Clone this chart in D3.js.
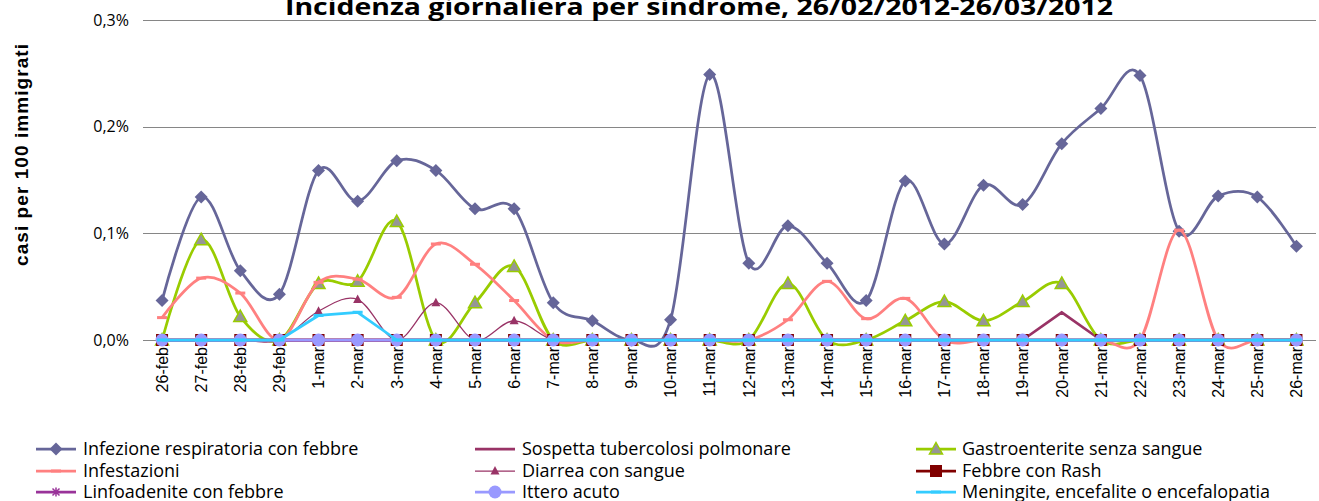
<!DOCTYPE html>
<html><head><meta charset="utf-8">
<script src="https://cdn.jsdelivr.net/npm/d3@7"></script>
<style>body{margin:0;background:#fff;} svg{display:block}</style>
</head><body><svg id="c" width="1319" height="501"></svg>
<script>
// ---------- data ----------
const categories = ["26-feb","27-feb","28-feb","29-feb","1-mar","2-mar","3-mar","4-mar","5-mar","6-mar","7-mar","8-mar","9-mar","10-mar","11-mar","12-mar","13-mar","14-mar","15-mar","16-mar","17-mar","18-mar","19-mar","20-mar","21-mar","22-mar","23-mar","24-mar","25-mar","26-mar"];
const infezioneRespiratoria = [0.037,0.134,0.065,0.043,0.159,0.130,0.168,0.159,0.123,0.123,0.035,0.018,0,0.019,0.249,0.072,0.107,0.072,0.037,0.149,0.090,0.145,0.127,0.184,0.217,0.248,0.102,0.135,0.134,0.088];
const tubercolosi = [0,0,0,0,0,0,0,0,0,0,0,0,0,0,0,0,0,0,0,0,0,0,0,0.026,0,0,0,0,0,0];
const gastroenterite = [0,0.094,0.022,0,0.053,0.055,0.111,0,0.035,0.069,0,0,0,0,0,0,0.053,0,0,0.018,0.036,0.018,0.036,0.053,0,0,0,0,0,0];
const infestazioni = [0.021,0.058,0.044,0,0.054,0.057,0.040,0.090,0.071,0.037,0,0,0,0,0,0,0.019,0.055,0.020,0.039,0,0,0,0,0,0,0.103,0,0,0];
const diarrea = [0,0,0,0,0.027,0.038,0,0.035,0,0.018,0,0,0,0,0,0,0,0,0,0,0,0,0,0,0,0,0,0,0,0];
const febbreRash = [0,0,0,0,0,0,0,0,0,0,0,0,0,0,0,0,0,0,0,0,0,0,0,0,0,0,0,0,0,0];
const linfoadenite = [0,0,0,0,0,0,0,0,0,0,0,0,0,0,0,0,0,0,0,0,0,0,0,0,0,0,0,0,0,0];
const ittero = [0,0,0,0,0,0,0,0,0,0,0,0,0,0,0,0,0,0,0,0,0,0,0,0,0,0,0,0,0,0];
const meningite = [0,0,0,0,0.023,0.026,0,0,0,0,0,0,0,0,0,0,0,0,0,0,0,0,0,0,0,0,0,0,0,0];
const seriesNames = ["Infezione respiratoria con febbre","Sospetta tubercolosi polmonare","Gastroenterite senza sangue","Infestazioni","Diarrea con sangue","Febbre con Rash","Linfoadenite con febbre","Ittero acuto","Meningite, encefalite o encefalopatia"];
const yTicks = [0,0.1,0.2,0.3];
const yTickLabels = ["0,0%","0,1%","0,2%","0,3%"];
const title = "Incidenza giornaliera per sindrome, 26/02/2012-26/03/2012";
const yTitle = "casi per 100 immigrati";

// ---------- styles ----------
const styles = [
  {color:"#666699", width:2.75, smooth:true, marker:"diamond", fill:"#666699"},
  {color:"#993366", width:2.75, smooth:false, marker:null},
  {color:"#99CC00", width:2.75, smooth:true, marker:"triangle", fill:"#969696"},
  {color:"#FF8080", width:2.75, smooth:true, marker:"dash", fill:"#FF8080"},
  {color:"#993366", width:1.25, smooth:true, marker:"smalltri", fill:"#993366"},
  {color:"#800000", width:2.75, smooth:false, marker:"square", fill:"#800000"},
  {color:"#993399", width:2.75, smooth:false, marker:"star", fill:"#993399"},
  {color:"#9999FF", width:2.75, smooth:false, marker:"circle", fill:"#9999FF"},
  {color:"#33CCFF", width:2.75, smooth:false, marker:"dash", fill:"#33CCFF"}
];
const values = [infezioneRespiratoria,tubercolosi,gastroenterite,infestazioni,diarrea,febbreRash,linfoadenite,ittero,meningite];
const series = seriesNames.map((n,i)=>({name:n, values:values[i], style:styles[i]}));

const svg = d3.select("#c");
const x = d3.scaleBand().domain(categories).range([142.5,1316]).padding(0);
const xc = c => x(c) + x.bandwidth()/2;
const y = d3.scaleLinear().domain([0,0.3]).range([340,20]);

// gridlines
svg.append("g").selectAll("line").data(yTicks).join("line")
  .attr("x1",143).attr("x2",1316)
  .attr("y1",d=>Math.round(y(d))+0.5).attr("y2",d=>Math.round(y(d))+0.5)
  .attr("stroke","#868686").attr("stroke-width",1);

// y tick labels
svg.append("g").selectAll("text").data(yTicks).join("text")
  .attr("x",129).attr("y",d=>y(d)).attr("dy","0.35em")
  .attr("text-anchor","end")
  .style("font-family","'Open Sans'").style("font-size","16px").attr("fill","#000")
  .text((d,i)=>yTickLabels[i]);

// x labels
svg.append("g").selectAll("text").data(categories).join("text")
  .attr("transform",d=>`translate(${xc(d)},347) rotate(-90)`)
  .attr("dy","0.36em").attr("text-anchor","end")
  .style("font-family","'Liberation Sans', Arial").style("font-size","16px").attr("fill","#000")
  .text(d=>d);

// title
svg.append("text").attr("x",285).attr("y",15)
  .attr("textLength",828).attr("lengthAdjust","spacingAndGlyphs")
  .style("font-family","'Open Sans'").style("font-weight","bold").style("font-size","23px")
  .text(title);

// y title
svg.append("text").attr("transform","translate(21,155) rotate(-90)")
  .attr("text-anchor","middle").attr("dy","0.35em")
  .attr("textLength",222).attr("lengthAdjust","spacing")
  .style("font-family","'Liberation Sans', Arial").style("font-weight","bold").style("font-size","19px")
  .text(yTitle);

function drawMarker(g, type, fill, stroke){
  if(type==="diamond") g.append("path").attr("d","M0,-6.5L6.5,0L0,6.5L-6.5,0Z").attr("fill",fill);
  else if(type==="triangle") g.append("path").attr("d","M0,-6.5L6.5,5L-6.5,5Z").attr("fill",fill).attr("stroke",stroke).attr("stroke-width",1.5);
  else if(type==="dash") g.append("rect").attr("x",-5).attr("y",-1.5).attr("width",10).attr("height",3).attr("fill",fill);
  else if(type==="smalltri") g.append("path").attr("d","M0,-5L4.5,3.5L-4.5,3.5Z").attr("fill",fill);
  else if(type==="square") g.append("rect").attr("x",-6).attr("y",-6).attr("width",12).attr("height",12).attr("fill",fill);
  else if(type==="circle") g.append("circle").attr("r",6.5).attr("fill",fill);
  else if(type==="star") g.append("path").attr("d","M-3.5,-3.5L3.5,3.5M-3.5,3.5L3.5,-3.5M0,-4.5L0,4.5").attr("stroke",fill).attr("stroke-width",1.5).attr("fill","none");
}

// series
series.forEach(s=>{
  const g = svg.append("g");
  const line = d3.line().x((d,i)=>xc(categories[i])).y(d=>y(d))
    .curve(s.style.smooth ? d3.curveCatmullRom.alpha(0) : d3.curveLinear);
  g.append("path").attr("d",line(s.values)).attr("fill","none")
    .attr("stroke",s.style.color).attr("stroke-width",s.style.width).attr("stroke-linejoin","round");
  if(s.style.marker){
    s.values.forEach((v,i)=>{
      const mg = g.append("g").attr("transform",`translate(${xc(categories[i])},${y(v)})`);
      drawMarker(mg, s.style.marker, s.style.fill, s.style.color);
    });
  }
});

// legend
const legRows = [449,471,492];
const legLineX = [36,475,916];
const legTextX = [83,522,962];
series.forEach((s,i)=>{
  const col = i%3, row = Math.floor(i/3);
  const g = svg.append("g");
  const yy = legRows[row];
  g.append("line").attr("x1",legLineX[col]).attr("x2",legLineX[col]+40).attr("y1",yy).attr("y2",yy)
    .attr("stroke",s.style.color).attr("stroke-width",s.style.width);
  if(s.style.marker){
    const mg = g.append("g").attr("transform",`translate(${legLineX[col]+20},${yy})`);
    drawMarker(mg, s.style.marker, s.style.fill, s.style.color);
  }
  g.append("text").attr("x",legTextX[col]).attr("y",yy).attr("dy","0.35em")
    .style("font-family","'Open Sans'").style("font-size","18px").attr("fill","#000")
    .text(s.name);
});
</script></body></html>
